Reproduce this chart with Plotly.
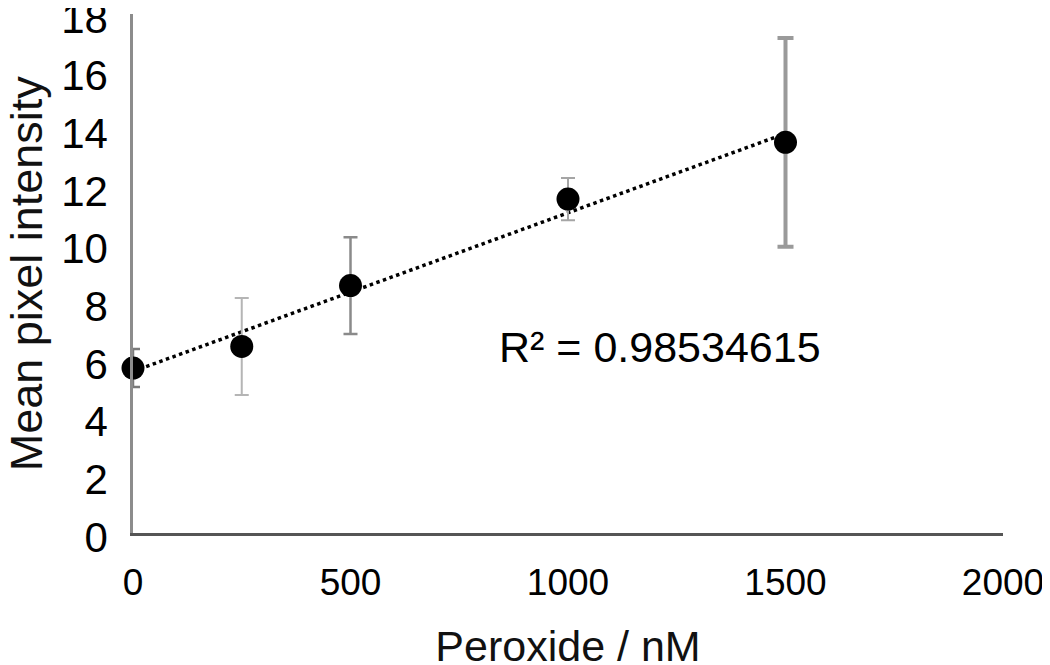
import numpy as np
import plotly.graph_objects as go

# Data
peroxide_nM = [0, 250, 500, 1000, 1500]
mean_intensity = [5.72, 6.47, 8.58, 11.58, 13.55]
error_sd = [0.66, 1.68, 1.68, 0.73, 3.62]
r2_label = "R² = 0.98534615"

x_ticks = [0, 500, 1000, 1500, 2000]
y_ticks = [0, 2, 4, 6, 8, 10, 12, 14, 16, 18]

# styles (not data)
err_colors = ["#7a7a7a", "#b5b5b5", "#8a8a8a", "#a5a5a5", "#9a9a9a"]
err_widths = [2.5, 2, 2.5, 2, 4]
err_caps = [7, 7, 7, 7, 8]

FONT = "Liberation Sans, Arial, sans-serif"

fig = go.Figure()

# trend line from a linear fit of the data
coef = np.polyfit(peroxide_nM, mean_intensity, 1)
tx = np.array([min(peroxide_nM), max(peroxide_nM)])
ty = np.polyval(coef, tx)
fig.add_trace(go.Scatter(x=tx, y=ty, mode="lines",
                         line=dict(color="black", width=3.5, dash="dot"),
                         hoverinfo="skip", showlegend=False, cliponaxis=False))

# error bars, one trace per point to vary the grey
for i in range(len(peroxide_nM)):
    fig.add_trace(go.Scatter(
        x=[peroxide_nM[i]], y=[mean_intensity[i]], mode="markers",
        marker=dict(size=1, color="rgba(0,0,0,0)"),
        error_y=dict(type="data", array=[error_sd[i]], visible=True,
                     color=err_colors[i], thickness=err_widths[i], width=err_caps[i]),
        showlegend=False, hoverinfo="skip", cliponaxis=False))

fig.add_trace(go.Scatter(x=peroxide_nM, y=mean_intensity, mode="markers",
                         marker=dict(size=23, color="black"),
                         showlegend=False, cliponaxis=False))

fig.add_annotation(x=1211, y=6.46, text=r2_label, showarrow=False,
                   font=dict(family=FONT, size=43, color="black"))

# y-axis title as a rotated annotation for precise placement
fig.add_annotation(x=-0.122, y=0.5, xref="paper", yref="paper",
                   text="Mean pixel intensity", textangle=-90, showarrow=False,
                   xanchor="center", yanchor="middle",
                   font=dict(family=FONT, size=45, color="#111"))

fig.update_layout(
    width=1050, height=665,
    margin=dict(l=125, r=55, t=6, b=140),
    paper_bgcolor="white", plot_bgcolor="white",
    font=dict(family=FONT, color="black"),
)
fig.update_xaxes(range=[0, 2000], tickvals=x_ticks, showgrid=False, zeroline=False,
                 showline=True, linecolor="#555555", linewidth=3, automargin=False,
                 ticks="", ticklabelstandoff=15, ticklabeloverflow="allow",
                 tickfont=dict(size=37, family=FONT, color="black"),
                 title=dict(text="Peroxide / nM", font=dict(size=43, family=FONT, color="#111"),
                            standoff=29))
fig.update_yaxes(range=[0, 18], tickvals=y_ticks, showgrid=False, zeroline=False,
                 showline=True, linecolor="#8c8c8c", linewidth=2.5, automargin=False,
                 ticks="", ticklabelstandoff=14, ticklabeloverflow="allow",
                 ticklabelshift=4,
                 tickfont=dict(size=42, family=FONT, color="black"))

fig.write_html("out.html")
